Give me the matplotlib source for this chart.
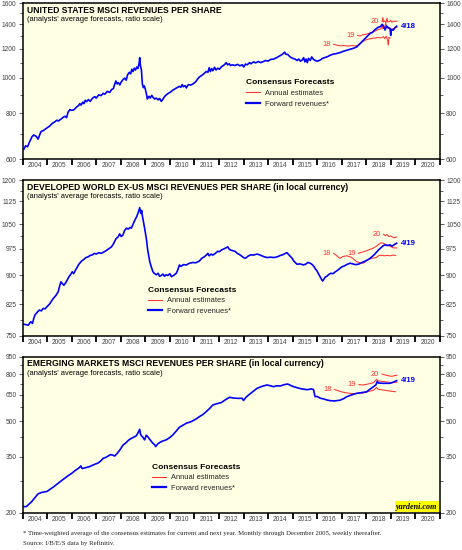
import matplotlib
matplotlib.use('Agg')
import matplotlib.pyplot as plt
from matplotlib.ticker import FixedLocator, FixedFormatter, NullFormatter
import numpy as np

plt.rcParams['font.family'] = ['Liberation Sans', 'DejaVu Sans']

BG = '#ffffe4'
BLUE = '#0000ff'
RED = '#ff3030'
GRAY = '#444444'

years = list(range(2004, 2021))

# ---------------- United States ----------------
us_t = [2004.05, 2004.12, 2004.2, 2004.28, 2004.38, 2004.45, 2004.55, 2004.63, 2004.7, 2004.75,
        2004.85, 2004.97, 2005.1, 2005.2, 2005.31, 2005.4, 2005.45, 2005.55, 2005.65, 2005.72,
        2005.79, 2005.85, 2005.92, 2006.0, 2006.09, 2006.2, 2006.28, 2006.33, 2006.38, 2006.45,
        2006.5, 2006.55, 2006.6, 2006.68, 2006.75, 2006.85, 2006.94, 2007.0, 2007.1, 2007.2,
        2007.28, 2007.35, 2007.45, 2007.55, 2007.62, 2007.7, 2007.75, 2007.8, 2007.85, 2007.9,
        2007.96, 2008.02, 2008.1, 2008.16, 2008.22, 2008.28, 2008.35, 2008.4, 2008.45, 2008.5,
        2008.55, 2008.6, 2008.65, 2008.7, 2008.75, 2008.77, 2008.8, 2008.84, 2008.88, 2008.92,
        2008.96, 2009.0, 2009.05, 2009.08, 2009.15, 2009.2, 2009.26, 2009.31, 2009.38, 2009.45,
        2009.52, 2009.58, 2009.65, 2009.72, 2009.78, 2009.85, 2009.92, 2010.0, 2010.12, 2010.2,
        2010.3, 2010.39, 2010.45, 2010.5, 2010.55, 2010.62, 2010.67, 2010.75, 2010.85, 2010.94,
        2011.05, 2011.12, 2011.2, 2011.3, 2011.38, 2011.48, 2011.55, 2011.6, 2011.65, 2011.7,
        2011.75, 2011.82, 2011.88, 2011.95, 2012.02, 2012.1, 2012.18, 2012.25, 2012.29, 2012.35,
        2012.42, 2012.47, 2012.55, 2012.65, 2012.75, 2012.85, 2012.95, 2013.01, 2013.08, 2013.15,
        2013.25, 2013.3, 2013.41, 2013.5, 2013.6, 2013.7, 2013.82, 2013.9, 2014.0, 2014.1,
        2014.23, 2014.35, 2014.45, 2014.55, 2014.62, 2014.68, 2014.72, 2014.8, 2014.9, 2015.0,
        2015.1, 2015.18, 2015.25, 2015.32, 2015.4, 2015.45, 2015.5, 2015.55, 2015.6, 2015.65,
        2015.72, 2015.78, 2015.85, 2015.92, 2016.0, 2016.13, 2016.2, 2016.3, 2016.4, 2016.53,
        2016.65, 2016.8, 2016.94, 2017.05, 2017.2, 2017.35, 2017.5, 2017.62, 2017.75, 2017.89,
        2018.0, 2018.1, 2018.16, 2018.25, 2018.35, 2018.43, 2018.5, 2018.58, 2018.65, 2018.7,
        2018.77, 2018.83, 2018.9, 2018.97, 2019.0, 2019.02, 2019.1, 2019.17, 2019.24]
us_fwd = [638, 652, 648, 668, 690, 698, 692, 680, 700, 713,
          718, 728, 738, 750, 758, 766, 762, 770, 780, 785,
          778, 805, 818, 815, 818, 832, 840, 850, 842, 858,
          850, 868, 860, 872, 862, 880, 888, 880, 898, 894,
          907, 902, 918, 912, 928, 935, 960, 980, 962, 970,
          956, 975, 990, 998, 985, 1020, 1035, 1025, 1055, 1040,
          1062, 1050, 1070, 1060, 1100, 1135, 1080, 1050, 960, 940,
          950, 930, 900, 875, 890, 880, 895, 885, 875, 880,
          870, 878, 862, 875, 888, 898, 905, 912, 925, 932,
          940, 948, 942, 958, 945, 952, 938, 958, 955, 962,
          975, 990, 1005, 1015, 1025, 1040, 1035, 1065, 1040, 1060,
          1045, 1068, 1050, 1062, 1055, 1072, 1080, 1090, 1100, 1085,
          1092, 1080, 1085, 1080, 1088, 1078, 1085, 1070, 1090, 1085,
          1100, 1092, 1105, 1098, 1108, 1100, 1108, 1115, 1110, 1122,
          1125, 1135, 1145, 1155, 1165, 1175, 1160, 1158, 1140, 1130,
          1125, 1115, 1125, 1110, 1120, 1135, 1105, 1125, 1100, 1130,
          1115, 1140, 1122, 1115, 1110, 1118, 1128, 1135, 1140, 1152,
          1160, 1165, 1172, 1180, 1188, 1196, 1205, 1215, 1240, 1268,
          1290, 1310, 1322, 1330, 1352, 1365, 1375, 1380, 1400, 1385,
          1350, 1385, 1370, 1365, 1305, 1355, 1348, 1370, 1383]

us_t18 = [2016.67, 2016.8, 2016.95, 2017.1, 2017.25, 2017.4, 2017.55, 2017.7, 2017.85, 2018.0,
          2018.15, 2018.3, 2018.45, 2018.6, 2018.7, 2018.75, 2018.82, 2018.88, 2018.9, 2018.93, 2018.97]
us_e18 = [1234, 1228, 1222, 1225, 1220, 1225, 1222, 1230, 1255, 1270,
          1278, 1282, 1288, 1285, 1295, 1280, 1298, 1260, 1230, 1290, 1285]
us_t19 = [2017.65, 2017.75, 2017.85, 2018.0, 2018.15, 2018.3, 2018.4, 2018.5, 2018.6, 2018.65,
          2018.68, 2018.75, 2018.8, 2018.83, 2018.9, 2019.0, 2019.1, 2019.2, 2019.25]
us_e19 = [1305, 1300, 1310, 1315, 1325, 1335, 1345, 1355, 1360, 1395,
          1360, 1375, 1410, 1370, 1365, 1355, 1362, 1370, 1372]
us_t20 = [2018.65, 2018.68, 2018.7, 2018.75, 2018.8, 2018.85, 2018.88, 2018.95, 2019.0, 2019.05,
          2019.12, 2019.2, 2019.25]
us_e20 = [1425, 1460, 1420, 1430, 1415, 1455, 1420, 1425, 1435, 1418, 1428, 1425, 1428]

# ---------------- Developed World ex-US ----------------
dw_t = [2004.05, 2004.15, 2004.23, 2004.33, 2004.4, 2004.45, 2004.5, 2004.6, 2004.68, 2004.76,
        2004.84, 2004.92, 2004.97, 2005.1, 2005.25, 2005.35, 2005.45, 2005.5, 2005.56, 2005.62,
        2005.68, 2005.75, 2005.85, 2005.9, 2005.95, 2006.02, 2006.08, 2006.13, 2006.2, 2006.28,
        2006.33, 2006.4, 2006.5, 2006.58, 2006.67, 2006.75, 2006.85, 2006.92, 2007.0, 2007.1,
        2007.2, 2007.28, 2007.4, 2007.5, 2007.62, 2007.7, 2007.8, 2007.89, 2007.95, 2008.02,
        2008.09, 2008.15, 2008.23, 2008.3, 2008.38, 2008.43, 2008.5, 2008.57, 2008.65, 2008.72,
        2008.77, 2008.82, 2008.85, 2008.88, 2008.93, 2008.97, 2009.04, 2009.1, 2009.18, 2009.25,
        2009.31, 2009.38, 2009.45, 2009.52, 2009.58, 2009.65, 2009.72, 2009.78, 2009.85, 2009.92,
        2010.0, 2010.06, 2010.15, 2010.26, 2010.32, 2010.39, 2010.45, 2010.55, 2010.67, 2010.8,
        2010.94, 2011.05, 2011.2, 2011.3, 2011.4, 2011.48, 2011.55, 2011.6, 2011.68, 2011.75,
        2011.85, 2011.95, 2012.02, 2012.1, 2012.2, 2012.28, 2012.36, 2012.42, 2012.47, 2012.55,
        2012.65, 2012.75, 2012.87, 2013.0, 2013.08, 2013.15, 2013.21, 2013.3, 2013.4, 2013.55,
        2013.65, 2013.75, 2013.85, 2013.96, 2014.1, 2014.25, 2014.37, 2014.5, 2014.6, 2014.7,
        2014.77, 2014.85, 2014.98, 2015.05, 2015.12, 2015.18, 2015.3, 2015.45, 2015.55, 2015.62,
        2015.72, 2015.8, 2015.88, 2015.92, 2016.0, 2016.06, 2016.12, 2016.18, 2016.22, 2016.26,
        2016.32, 2016.4, 2016.46, 2016.55, 2016.65, 2016.74, 2016.85, 2016.94, 2017.01, 2017.1,
        2017.2, 2017.35, 2017.45, 2017.55, 2017.68, 2017.8, 2017.96, 2018.1, 2018.23, 2018.35,
        2018.5, 2018.62, 2018.7, 2018.77, 2018.85, 2018.97, 2019.05, 2019.15, 2019.24]
dw_fwd = [777, 776, 775, 783, 779, 790, 799, 806, 811, 809,
          815, 814, 818, 826, 840, 847, 857, 870, 883, 878,
          874, 880, 892, 898, 902, 910, 905, 912, 920, 930,
          934, 940, 945, 950, 952, 956, 958, 962, 960, 964,
          962, 965, 970, 975, 981, 990, 1005, 1011, 1020, 1012,
          1017, 1030, 1038, 1035, 1040, 1038, 1050, 1063, 1075, 1090,
          1104, 1085, 1095, 1077, 1055, 1038, 1006, 970, 938, 922,
          910, 905, 902, 906, 898, 900, 904, 898, 902, 900,
          905, 897, 900, 906, 915, 929, 925, 930, 929, 934,
          936, 935, 940, 948, 952, 957, 962, 955, 960, 957,
          962, 968, 967, 972, 975, 978, 981, 974, 972, 970,
          968, 962, 957, 950, 948, 952, 955, 958, 957, 960,
          958, 955, 952, 950, 951, 950, 952, 956, 958, 962,
          964, 958, 948, 940, 935, 931, 932, 929, 932, 936,
          934, 930, 924, 919, 912, 904, 897, 890, 885, 888,
          895, 898, 902, 906, 905, 910, 915, 920, 924, 926,
          930, 934, 932, 930, 931, 935, 940, 945, 952, 960,
          972, 980, 985, 987, 985, 987, 983, 988, 992]

dw_t18 = [2016.67, 2016.75, 2016.85, 2016.94, 2017.05, 2017.2, 2017.35, 2017.45, 2017.55, 2017.62,
          2017.75, 2017.89, 2018.0, 2018.1, 2018.25, 2018.4, 2018.5, 2018.6, 2018.75, 2018.85,
          2018.97, 2019.1, 2019.2]
dw_e18 = [962, 958, 952, 948, 953, 955, 952, 948, 942, 938,
          935, 934, 940, 945, 948, 950, 955, 957, 955, 956,
          955, 957, 956]
dw_t19 = [2017.68, 2017.8, 2017.95, 2018.1, 2018.2, 2018.3, 2018.4, 2018.5, 2018.6, 2018.7,
          2018.8, 2018.9, 2019.0, 2019.1, 2019.24]
dw_e19 = [962, 965, 968, 972, 975, 978, 982, 988, 993, 992, 988, 985, 982, 978, 978]
dw_t20 = [2018.7, 2018.78, 2018.85, 2018.92, 2019.0, 2019.08, 2019.15, 2019.24]
dw_e20 = [1019, 1015, 1018, 1012, 1014, 1010, 1008, 1011]

# ---------------- Emerging Markets ----------------
em_t = [2004.05, 2004.15, 2004.25, 2004.37, 2004.5, 2004.63, 2004.75, 2004.9, 2005.0, 2005.11,
        2005.25, 2005.35, 2005.45, 2005.6, 2005.72, 2005.85, 2006.0, 2006.13, 2006.25, 2006.33,
        2006.37, 2006.42, 2006.46, 2006.6, 2006.74, 2006.9, 2007.07, 2007.18, 2007.28, 2007.38,
        2007.48, 2007.58, 2007.68, 2007.75, 2007.85, 2007.96, 2008.03, 2008.09, 2008.2, 2008.3,
        2008.36, 2008.5, 2008.63, 2008.7, 2008.77, 2008.8, 2008.84, 2008.9, 2008.97, 2009.04,
        2009.1, 2009.18, 2009.25, 2009.31, 2009.38, 2009.42, 2009.5, 2009.58, 2009.7, 2009.85,
        2010.0, 2010.12, 2010.25, 2010.39, 2010.5, 2010.67, 2010.87, 2011.05, 2011.2, 2011.35,
        2011.48, 2011.6, 2011.75, 2011.9, 2012.09, 2012.25, 2012.43, 2012.6, 2012.8, 2012.94,
        2013.0, 2013.1, 2013.21, 2013.35, 2013.55, 2013.75, 2013.96, 2014.1, 2014.23, 2014.35,
        2014.5, 2014.65, 2014.8, 2014.92, 2015.04, 2015.2, 2015.38, 2015.6, 2015.75, 2015.85,
        2015.9, 2015.92, 2016.0, 2016.13, 2016.25, 2016.4, 2016.53, 2016.7, 2016.94, 2017.1,
        2017.21, 2017.4, 2017.62, 2017.8, 2018.02, 2018.15, 2018.3, 2018.4, 2018.45, 2018.5,
        2018.7, 2018.97, 2019.1, 2019.24]
em_fwd = [213, 213, 218, 224, 233, 242, 245, 247, 248, 253,
          259, 264, 269, 277, 283, 290, 297, 305, 311, 316,
          320, 312, 312, 315, 318, 324, 329, 336, 345, 348,
          353, 358, 356, 353, 362, 375, 385, 394, 402, 412,
          417, 425, 432, 445, 461, 440, 432, 426, 415, 435,
          428, 417, 408, 401, 395, 388, 398, 404, 410, 415,
          425, 436, 452, 471, 478, 490, 498, 510, 523, 535,
          550, 565, 588, 595, 602, 618, 635, 630, 628, 629,
          615, 635, 650, 668, 694, 708, 718, 712, 706, 712,
          711, 720, 725, 715, 706, 698, 690, 685, 690, 687,
          650, 639, 640, 629, 625, 618, 614, 612, 617, 628,
          639, 650, 661, 665, 671, 688, 706, 720, 745, 732,
          730, 730, 738, 750]

em_t18 = [2016.7, 2016.85, 2017.0, 2017.15, 2017.3, 2017.5, 2017.7, 2017.85, 2018.0, 2018.15,
          2018.3, 2018.42, 2018.48, 2018.6, 2018.8, 2019.0, 2019.2]
em_e18 = [687, 678, 670, 665, 661, 658, 660, 662, 668, 675, 682, 700, 688, 685, 680, 675, 671]
em_t19 = [2017.7, 2017.85, 2018.0, 2018.15, 2018.3, 2018.42, 2018.5, 2018.6, 2018.75, 2018.9,
          2019.05, 2019.25]
em_e19 = [721, 718, 722, 728, 735, 760, 748, 745, 742, 738, 735, 738]
em_t20 = [2018.65, 2018.8, 2018.95, 2019.05, 2019.15, 2019.25]
em_e20 = [800, 792, 785, 783, 788, 792]

panels = [
    dict(title='UNITED STATES MSCI REVENUES PER SHARE', ylim=(600, 1600),
         major=[600, 800, 1000, 1200, 1400, 1600],
         minor=[700, 900, 1100, 1300, 1500],
         t=us_t, fwd=us_fwd, end_label='4/18',
         est=[(us_t18, us_e18, '18'), (us_t19, us_e19, '19'), (us_t20, us_e20, '20')],
         leg=(0.535, 0.51)),
    dict(title='DEVELOPED WORLD EX-US MSCI REVENUES PER SHARE (in local currency)', ylim=(750, 1200),
         major=[750, 825, 900, 975, 1050, 1125, 1200],
         minor=[787.5, 862.5, 937.5, 1012.5, 1087.5, 1162.5],
         t=dw_t, fwd=dw_fwd, end_label='4/19',
         est=[(dw_t18, dw_e18, '18'), (dw_t19, dw_e19, '19'), (dw_t20, dw_e20, '20')],
         leg=(0.30, 0.315)),
    dict(title='EMERGING MARKETS MSCI REVENUES PER SHARE (in local currency)', ylim=(200, 950),
         major=[200, 350, 500, 650, 800, 950],
         minor=[275, 425, 575, 725, 875],
         t=em_t, fwd=em_fwd, end_label='4/19',
         est=[(em_t18, em_e18, '18'), (em_t19, em_e19, '19'), (em_t20, em_e20, '20')],
         leg=(0.31, 0.315)),
]

fig = plt.figure(figsize=(4.62, 5.5), dpi=100)
fig.patch.set_facecolor('white')

tops = [0.9945, 0.6727, 0.351]
height = 0.2836
left, width = 0.049, 0.903


def draw_panel(ax, p):
    ax.set_facecolor(BG)
    ax.set_yscale('log')
    ax.set_xlim(2004, 2021)
    ax.set_ylim(*p['ylim'])

    for t, e, lab in p['est']:
        ax.plot(t, e, color=RED, lw=0.75)
        ax.annotate(lab, (t[0], e[0]), xytext=(-2, 0), textcoords='offset points',
                    ha='right', va='center', color=RED, fontsize=5.4)
    ax.plot(p['t'], p['fwd'], color=BLUE, lw=1.2)
    ax.annotate(p['end_label'], (p['t'][-1], p['fwd'][-1]), xytext=(3, 0),
                textcoords='offset points', ha='left', va='center', color=BLUE,
                fontsize=5.6, fontweight='bold')

    # y axes on both sides
    ax.yaxis.set_major_locator(FixedLocator(p['major']))
    ax.yaxis.set_major_formatter(FixedFormatter([str(v) for v in p['major']]))
    ax.yaxis.set_minor_locator(FixedLocator(p['minor']))
    ax.yaxis.set_minor_formatter(NullFormatter())
    ax.tick_params(axis='y', which='both', left=True, right=True, labelleft=True,
                   labelright=True, direction='out', color=GRAY, labelcolor=GRAY,
                   labelsize=4.8, pad=1.5)
    ax.tick_params(axis='y', which='major', length=3, width=0.6)
    ax.tick_params(axis='y', which='minor', length=2, width=0.6)

    # years: ticks at boundaries, labels in the middle
    ax.xaxis.set_major_locator(FixedLocator(years + [2021]))
    ax.xaxis.set_major_formatter(NullFormatter())
    ax.xaxis.set_minor_locator(FixedLocator([y + 0.5 for y in years]))
    ax.xaxis.set_minor_formatter(FixedFormatter([str(y) for y in years]))
    ax.tick_params(axis='x', which='major', length=4, width=1.3, color='black', direction='out')
    ax.tick_params(axis='x', which='minor', length=0, labelsize=4.8, labelcolor=GRAY, pad=2.5)

    for s in ax.spines.values():
        s.set_linewidth(1.1)
        s.set_color('black')

    ax.text(0.01, 0.955, p['title'], transform=ax.transAxes, fontsize=6.25,
            fontweight='bold', va='center', ha='left', color='black')
    ax.text(0.01, 0.895, "(analysts' average forecasts, ratio scale)", transform=ax.transAxes,
            fontsize=5.4, va='center', ha='left', color='black')

    h_est, = ax.plot([], [], color=RED, lw=0.75)
    h_fwd, = ax.plot([], [], color=BLUE, lw=1.6)
    leg = ax.legend([h_est, h_fwd], ['Annual estimates', 'Forward revenues*'],
                    title='Consensus Forecasts', loc='upper left', bbox_to_anchor=p['leg'],
                    frameon=False, fontsize=5.4, handlelength=1.9, handletextpad=0.6,
                    labelspacing=0.45, borderpad=0, borderaxespad=0, alignment='left',
                    title_fontproperties={'weight': 'bold', 'size': 6.0})
    for txt in leg.get_texts():
        txt.set_color('#222222')


for i, p in enumerate(panels):
    ax = fig.add_axes([left, tops[i] - height, width, height])
    draw_panel(ax, p)
    if i == 2:
        ax.text(0.995, 0.015, 'yardeni.com', transform=ax.transAxes, ha='right', va='bottom',
                fontsize=5.9, fontstyle='italic', fontweight='bold', family='Liberation Serif',
                bbox=dict(boxstyle='square,pad=0.15', facecolor='#ffff00', edgecolor='none'))

fig.text(0.05, 0.031, '* Time-weighted average of the consensus estimates for current and next year. '
         'Monthly through December 2005, weekly thereafter.', fontsize=4.9,
         family='Liberation Serif', color='#222222', va='center')
fig.text(0.05, 0.0127, 'Source: I/B/E/S data by Refinitiv.', fontsize=4.9,
         family='Liberation Serif', color='#222222', va='center')

fig.savefig('out.png', dpi=100)
